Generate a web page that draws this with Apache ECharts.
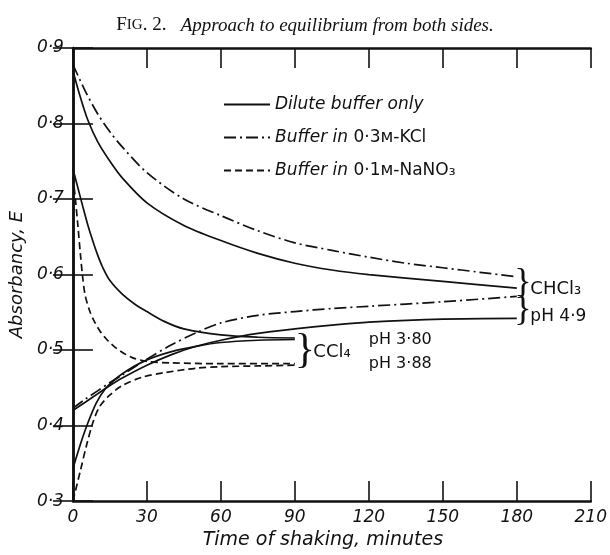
<!DOCTYPE html>
<html><head><meta charset="utf-8">
<script src="https://cdn.jsdelivr.net/npm/echarts@6/dist/echarts.min.js"></script>
<style>html,body{margin:0;padding:0;background:#fff}#c{width:610px;height:555px}</style>
</head><body><div id="c"></div>
<script>
// ---- data (time in minutes, absorbancy E) ----
const xTickValues = [0, 30, 60, 90, 120, 150, 180, 210];
const yTickValues = [0.3, 0.4, 0.5, 0.6, 0.7, 0.8, 0.9];
const legendNames = ['Dilute buffer only', 'Buffer in 0·3м-KCl', 'Buffer in 0·1м-NaNO₃'];

// CHCl3, pH 4.9 — dilute buffer, falling
const tChDilFall = [0, 3, 6, 10, 15, 20, 30, 45, 60, 75, 90, 105, 120, 150, 180];
const eChDilFall = [0.87, 0.835, 0.805, 0.776, 0.75, 0.728, 0.695, 0.665, 0.645, 0.628, 0.615, 0.606, 0.60, 0.591, 0.582];
// CHCl3 — 0.3M KCl, falling
const tChKclFall = [0, 5, 10, 15, 20, 30, 45, 60, 75, 90, 105, 120, 135, 150, 165, 180];
const eChKclFall = [0.878, 0.843, 0.813, 0.789, 0.769, 0.735, 0.70, 0.678, 0.658, 0.642, 0.632, 0.623, 0.615, 0.609, 0.603, 0.597];
// CHCl3 — 0.3M KCl, rising
const tChKclRise = [0, 5, 10, 15, 20, 30, 40, 50, 60, 75, 90, 105, 120, 150, 180];
const eChKclRise = [0.423, 0.435, 0.446, 0.457, 0.467, 0.488, 0.507, 0.523, 0.536, 0.546, 0.551, 0.555, 0.558, 0.564, 0.571];
// CHCl3 — dilute buffer, rising
const tChDilRise = [0, 5, 10, 15, 20, 30, 40, 50, 60, 75, 90, 105, 120, 150, 180];
const eChDilRise = [0.42, 0.431, 0.442, 0.453, 0.463, 0.48, 0.494, 0.505, 0.513, 0.522, 0.528, 0.533, 0.537, 0.541, 0.542];

// CCl4 — dilute buffer, falling (pH 3.80)
const tCcDilFall = [0, 2, 4, 6, 8, 10, 12, 15, 20, 25, 30, 37, 45, 60, 75, 90];
const eCcDilFall = [0.74, 0.715, 0.69, 0.666, 0.645, 0.626, 0.61, 0.592, 0.574, 0.561, 0.551, 0.538, 0.528, 0.52, 0.517, 0.516];
// CCl4 — dilute buffer, rising
const tCcDilRise = [0, 3, 6, 9.5, 13, 17, 22, 30, 40, 50, 60, 75, 90];
const eCcDilRise = [0.343, 0.375, 0.403, 0.43, 0.448, 0.461, 0.473, 0.487, 0.498, 0.505, 0.51, 0.513, 0.514];
// CCl4 — 0.1M NaNO3, falling (pH 3.88)
const tCcNaFall = [0, 1, 2, 3, 4, 5, 7, 9, 11, 14, 17, 20, 24, 30, 40, 60, 90];
const eCcNaFall = [0.73, 0.70, 0.665, 0.628, 0.595, 0.572, 0.55, 0.536, 0.525, 0.513, 0.504, 0.497, 0.49, 0.485, 0.483, 0.482, 0.482];
// CCl4 — 0.1M NaNO3, rising
const tCcNaRise = [0, 3, 5.6, 8.2, 10.8, 14.8, 20, 28, 37, 50, 60, 75, 90];
const eCcNaRise = [0.30, 0.34, 0.375, 0.405, 0.425, 0.44, 0.453, 0.464, 0.47, 0.476, 0.478, 0.479, 0.48];

// ---- chart ----
const INK = '#111';
const SANS = 'DejaVu Sans';
const DASHED = [7, 4];
const DASHDOT = [12, 4, 2, 4];
const dot = v => v.toFixed(1).replace('.', '·');

function line(name, t, e, type) {
  return {
    name, type: 'line', data: t.map((x, i) => [x, e[i]]),
    symbol: 'none', smooth: 0.3, silent: true,
    lineStyle: { color: INK, width: 1.7, type: type },
    itemStyle: { color: INK }
  };
}

const chart = echarts.init(document.getElementById('c'), null, { renderer: 'canvas' });
const axisLine = { show: true, lineStyle: { color: INK, width: 2.5 } };
const tick = { show: true, inside: true, length: 20, lineStyle: { color: INK, width: 1.6 } };

chart.setOption({
  animation: false,
  backgroundColor: '#fff',
  title: {
    text: '{sc|F}{sm|IG}{sc|. 2.}{sp|   }{it|Approach to equilibrium from both sides.}',
    left: 'center', top: 11,
    textStyle: {
      fontWeight: 'normal',
      rich: {
        sc: { fontFamily: 'Liberation Serif', fontWeight: 'normal', fontSize: 19, color: INK },
        sm: { fontFamily: 'Liberation Serif', fontWeight: 'normal', fontSize: 15, color: INK },
        sp: { fontFamily: 'Liberation Serif', fontWeight: 'normal', fontSize: 19 },
        it: { fontFamily: 'Liberation Serif', fontWeight: 'normal', fontStyle: 'italic', fontSize: 19, color: INK }
      }
    }
  },
  legend: {
    data: legendNames, orient: 'vertical', left: 218, top: 91,
    itemWidth: 46, itemHeight: 12, itemGap: 16, selectedMode: false,
    itemStyle: { color: 'rgba(0,0,0,0)', borderWidth: 0, opacity: 0 },
    formatter: n => n === legendNames[0] ? '{i|' + n + '}' :
      '{i|Buffer in }{u|' + n.replace('Buffer in ', '') + '}',
    textStyle: {
      rich: {
        i: { fontFamily: SANS, fontStyle: 'italic', fontSize: 17, color: INK },
        u: { fontFamily: SANS, fontSize: 17, color: INK }
      }
    }
  },
  grid: { left: 69, right: 5, top: 48, bottom: 48 },
  xAxis: [{
    type: 'value', min: 0, max: 210, interval: 30,
    axisLine, axisTick: tick, splitLine: { show: false },
    axisLabel: { color: INK, fontFamily: SANS, fontStyle: 'italic', fontSize: 17, margin: 8 },
    name: 'Time of shaking, minutes', nameLocation: 'middle', nameGap: 29,
    nameTextStyle: { color: INK, fontFamily: SANS, fontStyle: 'italic', fontSize: 19, padding: [0, 18, 0, 0] }
  }, {
    type: 'value', position: 'top', min: 0, max: 210, interval: 30,
    axisLine, axisTick: tick, axisLabel: { show: false }, splitLine: { show: false }
  }],
  yAxis: [{
    type: 'value', min: 0.3, max: 0.9, interval: 0.1,
    axisLine, axisTick: tick, splitLine: { show: false },
    axisLabel: { color: INK, fontFamily: SANS, fontStyle: 'italic', fontSize: 17, margin: 9, formatter: dot },
    name: 'Absorbancy, E', nameLocation: 'middle', nameGap: 42,
    nameTextStyle: { color: INK, fontFamily: SANS, fontStyle: 'italic', fontSize: 18 }
  }, {
    type: 'value', position: 'right', min: 0.3, max: 0.9, interval: 0.1,
    axisLine, axisTick: tick, axisLabel: { show: false }, splitLine: { show: false }
  }],
  series: [
    line(legendNames[0], tChDilFall, eChDilFall, 'solid'),
    line(legendNames[1], tChKclFall, eChKclFall, DASHDOT),
    line(legendNames[1], tChKclRise, eChKclRise, DASHDOT),
    line(legendNames[0], tChDilRise, eChDilRise, 'solid'),
    line(legendNames[0], tCcDilFall, eCcDilFall, 'solid'),
    line(legendNames[0], tCcDilRise, eCcDilRise, 'solid'),
    line(legendNames[2], tCcNaFall, eCcNaFall, DASHED),
    line(legendNames[2], tCcNaRise, eCcNaRise, DASHED)
  ]
});

// ---- annotations anchored in data space ----
const px = (t, e) => chart.convertToPixel({ gridIndex: 0 }, [t, e]);
function txt(t, e, s, opt) {
  const p = px(t, e);
  return { type: 'text', x: p[0], y: p[1], silent: true,
    style: Object.assign({ text: s, fill: INK, fontFamily: SANS, fontSize: 17,
      textAlign: 'left', textVerticalAlign: 'middle' }, opt || {}) };
}
const brace = { fontFamily: 'Liberation Serif', fontSize: 36, textAlign: 'center' };
chart.setOption({
  graphic: [
    txt(182.5, 0.588, '}', brace),
    txt(182.5, 0.552, '}', brace),
    txt(185.5, 0.581, 'CHCl₃', { fontSize: 18 }),
    txt(185.5, 0.545, 'pH 4·9', { fontSize: 17 }),
    txt(94, 0.499, '}', Object.assign({}, brace, { fontSize: 42 })),
    txt(97.5, 0.497, 'CCl₄', { fontSize: 18 }),
    txt(120, 0.514, 'pH 3·80', { fontSize: 16 }),
    txt(120, 0.482, 'pH 3·88', { fontSize: 16 })
  ]
});
</script></body></html>
